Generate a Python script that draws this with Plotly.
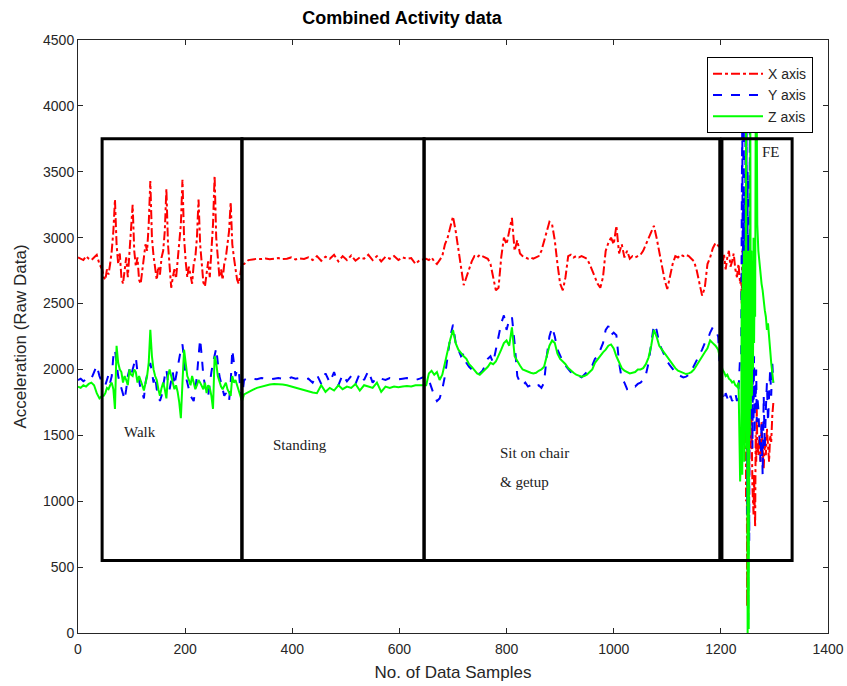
import plotly.graph_objects as go

# ---------------- data ----------------
# sample index segments: start and step of sample index for each block of values
SEG_START = [0, 48, 310, 650, 1200, 1238, 1270]
SEG_STEP = [5, 3, 8, 5, 3, 1, 2]

X_AXIS = [
    # 0-45
    [2850, 2840, 2830, 2860, 2840, 2830, 2850, 2870, 2800, 2760],
    # walk 48-306
    [2700, 2680, 2760, 2720, 2800, 2900, 3050, 3290, 2950, 2800,
     2880, 2700, 2650, 2780, 2850, 2700, 2900, 3050, 3250, 2900,
     2780, 2850, 2680, 2650, 2760, 2850, 2950, 2900, 3100, 3430,
     3000, 2860, 2750, 2680, 2780, 2720, 2850, 2900, 3050, 3370,
     2950, 2800, 2620, 2700, 2760, 2690, 2850, 2950, 3100, 3440,
     3000, 2820, 2700, 2780, 2720, 2650, 2800, 2850, 3000, 3290,
     2950, 2780, 2660, 2630, 2750, 2820, 2700, 2900, 3100, 3470,
     3000, 2850, 2700, 2760, 2680, 2800, 2850, 2950, 3050, 3270,
     2950, 2850, 2750, 2680, 2650, 2720, 2800],
    # standing 310-638
    [2800, 2830, 2835, 2840, 2838, 2842, 2836, 2840, 2845, 2838,
     2840, 2850, 2835, 2842, 2838, 2850, 2830, 2860, 2825, 2855,
     2840, 2870, 2820, 2860, 2830, 2865, 2825, 2850, 2840, 2870,
     2830, 2860, 2820, 2855, 2840, 2860, 2830, 2850, 2840, 2845,
     2800, 2830],
    # sit on chair 650-1195
    [2840, 2830, 2850, 2820, 2800, 2830, 2860, 2950, 3000, 3080,
     3160, 3050, 2900, 2750, 2640, 2700, 2760, 2820, 2860, 2850,
     2870, 2860, 2850, 2840, 2800, 2700, 2600, 2620, 2850, 3000,
     2950, 3050, 3150, 2900, 2980, 2880, 2860, 2850, 2840, 2850,
     2840, 2850, 2860, 2900, 2970, 3050, 3120, 3100, 2980, 2800,
     2650, 2600, 2700, 2860, 2870, 2850, 2860, 2850, 2860, 2850,
     2840, 2800, 2750, 2700, 2650, 2620, 2700, 2900, 2960, 3000,
     2950, 3090, 2880, 2950, 2850, 2900, 2840, 2860, 2850, 2860,
     2870, 2900, 2950, 3000, 3050, 3090, 3000, 2900, 2780, 2680,
     2610, 2700, 2800, 2860, 2850, 2870, 2860, 2870, 2860, 2840,
     2820, 2750, 2650, 2560, 2620, 2800, 2850, 2920, 2960, 2940],
    # FE 1200-1236
    [2900, 2800, 2870, 2760, 2850, 2900, 2780, 2820, 2880, 2760, 2700, 2800, 2650],
    # FE 1238-1268
    [2700, 2500, 2900, 2200, 2700, 1800, 2800, 1500, 2600, 1000,
     2300, 200, 1800, 600, 2200, 1200, 2000, 1600, 1400, 1700,
     1250, 1100, 1000, 900, 1200, 850, 800, 1500, 1300, 1700, 1450],
    # FE 1270-1298
    [1350, 1500, 1300, 1600, 1400, 1250, 1450, 1350, 1550, 1400, 1300, 1500, 1450, 1650, 1750],
]

Y_AXIS = [
    [1920, 1930, 1910, 1925, 1915, 1930, 1980, 2030, 1950, 1900],
    [1900, 1880, 1920, 1960, 1900, 1950, 2100, 2150, 2050, 1950,
     1900, 1850, 1800, 1770, 1850, 1950, 2000, 1950, 2000, 2050,
     2090, 1980, 1900, 1850, 1820, 1780, 1900, 1960, 1990, 2050,
     1980, 1900, 1950, 1850, 1800, 1760, 1800, 1880, 1950, 2000,
     1900, 1850, 1920, 1980, 1880, 1950, 2000, 2080, 2150, 2190,
     2050, 1950, 1900, 1850, 1800, 1780, 1760, 1850, 1950, 2100,
     2230, 2100, 1950, 1880, 1820, 1800, 1900, 1980, 2050, 2100,
     2160, 2050, 1950, 1900, 1850, 1800, 1820, 1780, 1760, 1900,
     2150, 2050, 1950, 2000, 2000, 1850, 1780],
    [1920, 1935, 1930, 1925, 1935, 1930, 1925, 1930, 1935, 1930,
     1925, 1940, 1930, 1935, 1925, 1930, 1900, 1960, 1890, 1970,
     1900, 1980, 1880, 1960, 1910, 1950, 1890, 1970, 1920, 1990,
     1900, 1940, 1930, 1920, 1935, 1930, 1925, 1930, 1935, 1930,
     1920, 1930],
    [1950, 1920, 1850, 1800, 1760, 1780, 1850, 1950, 2100, 2250,
     2340, 2200, 2150, 2100, 2120, 2050, 2020, 2000, 1980, 1960,
     1970, 1990, 2030, 2080, 2100, 2050, 2150, 2250, 2350, 2410,
     2300, 2380, 2400, 2200, 1950, 1900, 1880, 1900, 1870, 1880,
     1860, 1870, 1880, 1860, 1900, 2100, 2250, 2320, 2250, 2150,
     2100, 2060, 2030, 2000, 1980, 1970, 1960, 1950, 1940, 1960,
     1980, 2000, 2030, 2080, 2100, 2150, 2200, 2300, 2330, 2260,
     2280, 2260, 2050, 1930, 1900, 1850, 1860, 1880, 1870, 1890,
     1900, 1920, 1960, 2050, 2200, 2340, 2300, 2200, 2150, 2100,
     2060, 2030, 2000, 1980, 1960, 1950, 1940, 1945, 1960, 1990,
     2030, 2060, 2100, 2150, 2200, 2220, 2280, 2320, 2300, 2250],
    [1850, 1800, 1760, 1820, 1780, 1750, 1800, 1760, 1780, 1820, 1760, 1850, 2100],
    [2100, 3200, 3950, 2300, 3900, 1900, 3300, 2000, 3950, 1700,
     3900, 900, 3500, 100, 3000, 700, 3900, 1800, 2900, 1600,
     2500, 1400, 2200, 1600, 2100, 1500, 1900, 1700, 2000, 1600, 1800],
    [1700, 1500, 1300, 1600, 1200, 1800, 1400, 1700, 1900, 1600, 1850, 2000, 1800, 2050, 1900],
]

Z_AXIS = [
    [1870, 1860, 1880, 1870, 1890, 1900, 1880, 1820, 1780, 1800],
    [1800, 1820, 1860, 1850, 1880, 1900, 1850, 1700, 2180, 2050,
     2000, 1980, 1900, 1950, 1920, 1880, 2000, 1960, 1950, 2000,
     1980, 1900, 1950, 1920, 1880, 1840, 1900, 1950, 2050, 2300,
     2100, 2000, 1950, 1920, 1850, 1800, 1860, 1900, 1850, 1780,
     1950, 2000, 1950, 1900, 1850, 1880, 1830, 1750, 1630, 1900,
     2150, 2050, 1950, 1920, 1880, 1950, 1900, 1850, 1880, 1920,
     1900, 1870, 1850, 1900, 1820, 1880, 1860, 1800, 1700, 2100,
     2050, 1950, 1900, 1870, 1850, 1880, 1900, 1850, 1820, 1800,
     1950, 1900, 1920, 1880, 1850, 1800, 1760],
    [1810, 1830, 1845, 1860, 1870, 1880, 1885, 1890, 1890, 1885,
     1880, 1870, 1860, 1850, 1840, 1830, 1825, 1820, 1880, 1830,
     1860, 1840, 1880, 1850, 1870, 1860, 1890, 1840, 1880, 1870,
     1860, 1900, 1830, 1870, 1860, 1870, 1865, 1870, 1875, 1870,
     1880, 1880],
    [1880, 1970, 1990, 1960, 1980, 1920, 1960, 2050, 2150, 2230,
     2300, 2200, 2150, 2120, 2100, 2080, 2040, 2020, 1990, 1970,
     1960, 1980, 2000, 2020, 2050, 2040, 2060, 2100, 2150, 2200,
     2220, 2180, 2320, 2100, 2060, 2030, 2000, 1990, 1980, 1975,
     1970, 1975, 1990, 2000, 2020, 2100, 2180, 2220, 2200, 2120,
     2080, 2060, 2040, 2010, 1990, 1975, 1960, 1950, 1945, 1950,
     1960, 1980, 2000, 2050, 2080, 2110, 2130, 2150, 2180, 2190,
     2160, 2100, 2050, 2010, 1990, 1980, 1970, 1975, 1980, 2000,
     2000, 2010, 2040, 2090, 2180, 2300, 2250, 2180, 2150, 2120,
     2090, 2060, 2030, 2010, 1990, 1980, 1970, 1965, 1970, 1980,
     2000, 2030, 2060, 2100, 2130, 2160, 2220, 2200, 2180, 2150],
    [2050, 2000, 1980, 1950, 1960, 1930, 1920, 1900, 1910, 1880, 1870, 1900, 1150],
    [1400, 2600, 1200, 2800, 1500, 2900, 1300, 2700, 1600, 3900,
     1400, 2800, 0, 2900, 30, 2700, 1500, 3900, 1700, 2900,
     1800, 2800, 2000, 3000, 2200, 2700, 2400, 3900, 3100, 3950, 3100],
    [2900, 2800, 2750, 2650, 2600, 2500, 2450, 2400, 2300, 2350, 2200, 2150, 2050, 1950, 1900],
]

SERIES_NAMES = ["X axis", "Y axis", "Z axis"]
SERIES_VALUES = [X_AXIS, Y_AXIS, Z_AXIS]
SERIES_COLORS = ["#ff0000", "#0000ff", "#00ff00"]
SERIES_DASH = ["dashdot", "dash", "solid"]

# activity boxes (data coordinates of annotation rectangles)
BOXES = [(45, 306), (306, 646), (646, 1198), (1202, 1333)]
BOX_Y = (550, 3750)
LABELS = [("Walk", 82, 1525), ("Standing", 360, 1427),
          ("Sit on chair", 784, 1366), ("& getup", 784, 1146), ("FE", 1273, 3650)]


def build(series):
    xs, ys = [], []
    for start, step, vals in zip(SEG_START, SEG_STEP, series):
        for i, v in enumerate(vals):
            xs.append(start + step * i)
            ys.append(v)
    return xs, ys


fig = go.Figure()
for name, vals, col, dash in zip(SERIES_NAMES, SERIES_VALUES, SERIES_COLORS, SERIES_DASH):
    xs, ys = build(vals)
    fig.add_trace(go.Scatter(x=xs, y=ys, mode="lines", name=name,
                             line=dict(color=col, width=2, dash=dash)))

for x0, x1 in BOXES:
    fig.add_shape(type="rect", xref="x", yref="y", x0=x0, x1=x1,
                  y0=BOX_Y[0], y1=BOX_Y[1], line=dict(color="black", width=3),
                  layer="above")

for text, x, y in LABELS:
    fig.add_annotation(x=x, y=y, xref="x", yref="y", text=text, showarrow=False,
                       xanchor="left", yanchor="middle", align="left",
                       font=dict(family="Liberation Serif", size=15, color="#222222"))

axis_common = dict(showline=True, linecolor="#262626", linewidth=1, mirror="ticks",
                   ticks="inside", ticklen=5, tickcolor="#262626", showgrid=False,
                   zeroline=False, automargin=False,
                   tickfont=dict(family="Liberation Sans", size=14, color="#262626"))

fig.update_layout(
    width=847, height=686,
    margin=dict(l=78, r=19, t=40, b=53, autoexpand=False),
    paper_bgcolor="white", plot_bgcolor="white",
    font=dict(family="Liberation Sans", color="#262626"),
    title=dict(text="<b>Combined Activity data</b>", x=402 / 847, xanchor="center",
               xref="container", y=1 - 18 / 686, yanchor="middle", yref="container",
               automargin=False,
               font=dict(family="Liberation Sans", size=18, color="black")),
    xaxis=dict(range=[0, 1400], dtick=200, tick0=0, ticklabelstandoff=3,
               title=dict(text="No. of Data Samples", standoff=10,
                          font=dict(family="Liberation Sans", size=17, color="#262626")),
               **axis_common),
    yaxis=dict(range=[0, 4500], dtick=500, tick0=0,
               title=dict(text="Acceleration (Raw Data)", standoff=12,
                          font=dict(family="Liberation Sans", size=17, color="#262626")),
               **axis_common),
    legend=dict(x=0.98, y=0.971, xanchor="right", yanchor="top",
                bgcolor="white", bordercolor="black", borderwidth=1,
                font=dict(family="Liberation Sans", size=14, color="#262626"),
                tracegroupgap=0, itemwidth=50),
    showlegend=True,
)

fig.write_html("out.html")
